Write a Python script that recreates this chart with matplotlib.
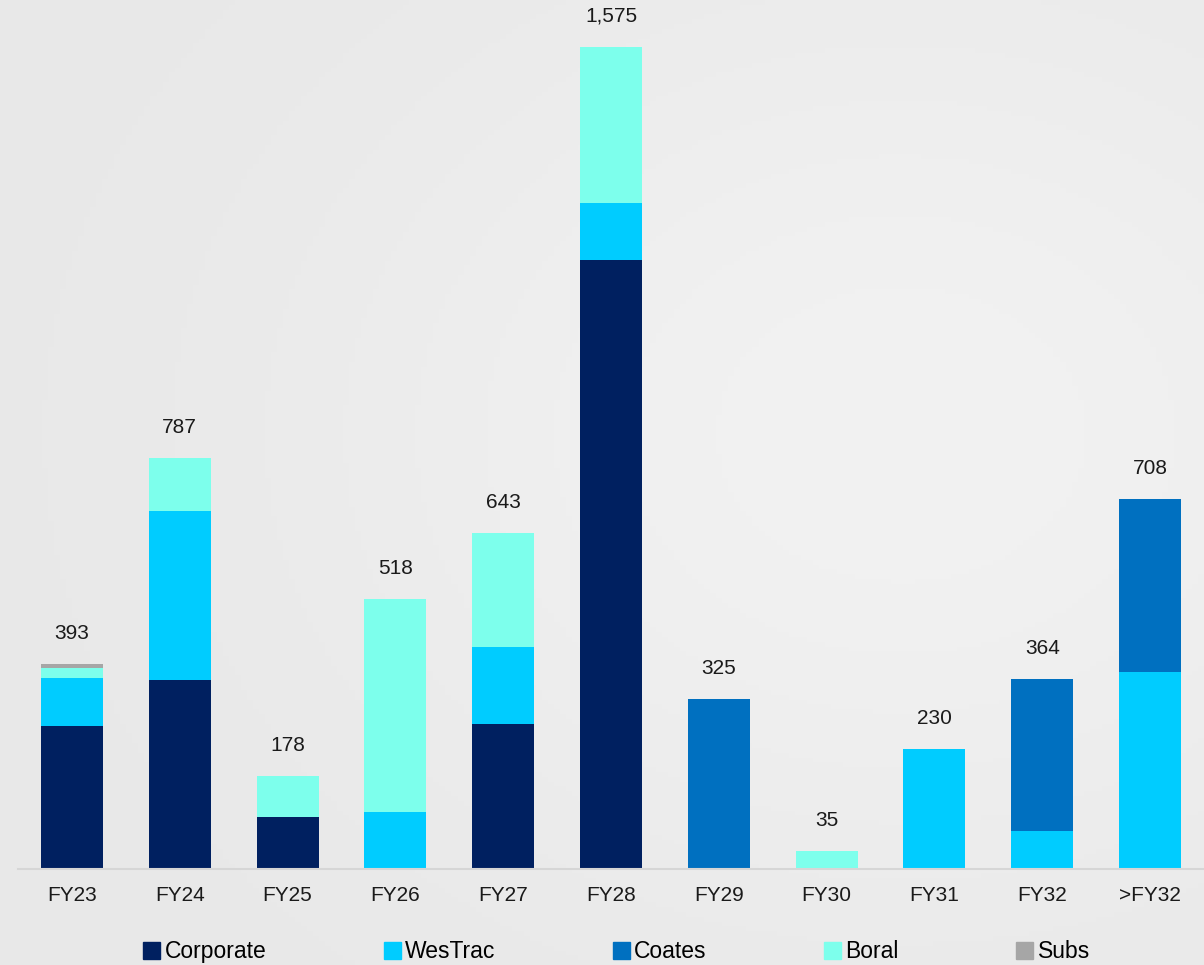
import numpy as np
import matplotlib.pyplot as plt
from matplotlib.patches import Patch

plt.rcParams['font.family'] = ['Liberation Sans', 'DejaVu Sans']

# data
years = ["FY23", "FY24", "FY25", "FY26", "FY27", "FY28", "FY29", "FY30", "FY31", "FY32", ">FY32"]
corporate = [274, 363, 100, 0, 278, 1166, 0, 0, 0, 0, 0]
westrac = [91, 322, 0, 109, 148, 111, 0, 0, 230, 73, 378]
coates = [0, 0, 0, 0, 0, 0, 325, 0, 0, 291, 330]
boral = [20, 102, 78, 409, 217, 298, 0, 35, 0, 0, 0]
subs = [8, 0, 0, 0, 0, 0, 0, 0, 0, 0, 0]
totals = [393, 787, 178, 518, 643, 1575, 325, 35, 230, 364, 708]

series = [("Corporate", corporate, "#002060"),
          ("WesTrac", westrac, "#00CCFF"),
          ("Coates", coates, "#0070C0"),
          ("Boral", boral, "#7DFFEC"),
          ("Subs", subs, "#A6A6A6")]

fig = plt.figure(figsize=(12.04, 9.65), dpi=100)

# soft grey background gradient
bg = fig.add_axes([0, 0, 1, 1], zorder=-10)
yy, xx = np.mgrid[0:1:200j, 0:1:200j]
shade = 0.905 + 0.04 * np.exp(-((xx - 0.75) ** 2 + (yy - 0.45) ** 2) / 0.25)
bg.imshow(shade, cmap="gray", vmin=0, vmax=1, aspect="auto", extent=[0, 1, 0, 1])
bg.axis("off")

ax = fig.add_axes([18 / 1204, 96 / 965, 1186 / 1204, 869 / 965])
ax.patch.set_alpha(0)

x = np.arange(len(years))
bottom = np.zeros(len(years))
for name, vals, col in series:
    vals = np.array(vals, dtype=float)
    ax.bar(x, vals, 0.575, bottom=bottom, color=col, label=name, linewidth=0)
    bottom += vals

for xi, t in zip(x, totals):
    ax.annotate(f"{t:,}", (xi, bottom[xi]), xytext=(0, 22), textcoords="offset points",
                ha="center", va="center", fontsize=15, color="#1a1a1a")

ax.set_xlim(-0.5, len(years) - 0.5)
ax.set_ylim(0, 1665)
ax.set_xticks(x)
ax.set_xticklabels(years, fontsize=15, color="#1a1a1a")
ax.tick_params(axis="x", length=0, pad=12)
ax.set_yticks([])
for s in ["top", "right", "left"]:
    ax.spines[s].set_visible(False)
ax.spines["bottom"].set_color("#d6d6d6")
ax.spines["bottom"].set_linewidth(1.5)

handles = [Patch(color=c, label=n) for n, _, c in series]
fig.legend(handles=handles, loc="center", bbox_to_anchor=(0.512, 0.0135), ncol=5,
           frameon=False, fontsize=16.5, handlelength=0.75, handleheight=0.75,
           handletextpad=0.2, columnspacing=5.1)

fig.savefig("out.png", dpi=100)
